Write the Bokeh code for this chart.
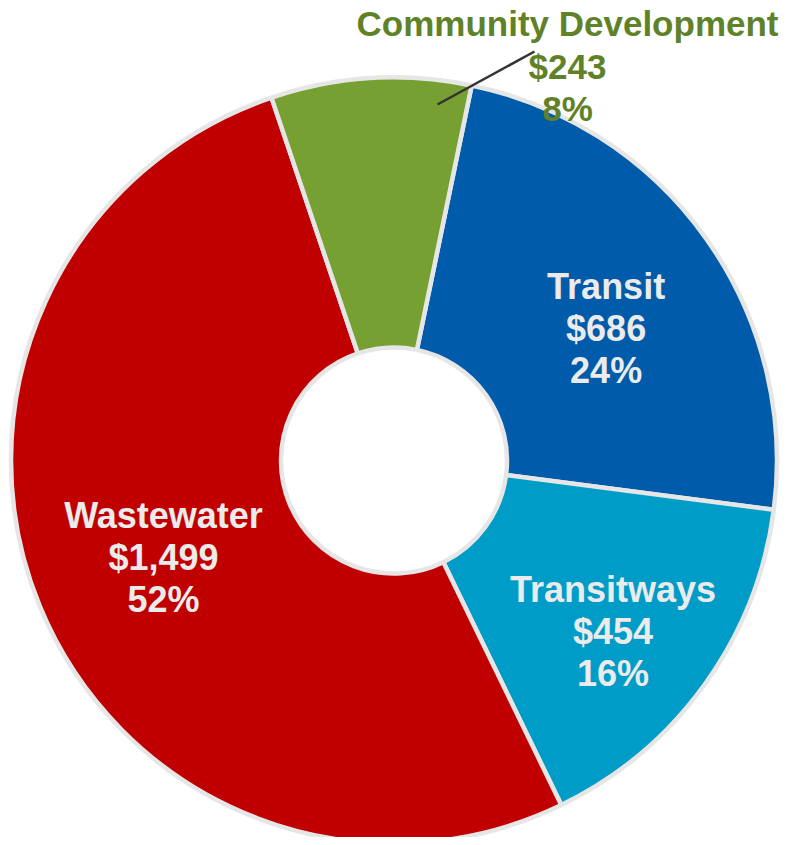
import math
from bokeh.plotting import figure
from bokeh.models import Range1d, ColumnDataSource
from bokeh.core.properties import value
from bokeh.embed import file_html
from bokeh.resources import INLINE

# ---- data ----
categories = ["Transit", "Transitways", "Wastewater", "Community Development"]
amounts = [686, 454, 1499, 243]
colors = ["#005BAA", "#009CC8", "#C00000", "#77A032"]

# ---- layout / style ----
W, H = 786, 837
PAGE_H = 845
cx, cy_screen = 393.5, 460
cy = PAGE_H - cy_screen
R_OUT, R_IN = 383, 113
START_DEG = 11.7  # clockwise from 12 o'clock
FONT = value("Liberation Sans")
FS = "36px"
FS_CD = "35px"
LINE = 42

total = sum(amounts)
starts, ends, mids = [], [], []
acc = START_DEG
for a in amounts:
    span = a / total * 360.0
    starts.append(acc)
    ends.append(acc + span)
    mids.append(acc + span / 2)
    acc += span

def to_bokeh(deg):
    return math.radians(90.0 - deg)

src = ColumnDataSource(dict(
    start=[to_bokeh(s) for s in starts],
    end=[to_bokeh(e) for e in ends],
    color=colors,
))

p = figure(width=W, height=H, output_backend="svg", toolbar_location=None,
           x_range=Range1d(0, W), y_range=Range1d(PAGE_H - H, PAGE_H),
           min_border=0, outline_line_color=None)
p.axis.visible = False
p.grid.visible = False
p.background_fill_color = "white"
p.border_fill_color = "white"

p.annular_wedge(x=cx, y=cy, inner_radius=R_IN, outer_radius=R_OUT,
                start_angle="start", end_angle="end", direction="clock",
                fill_color="color", line_color="#E6E6E6", line_width=4.5,
                source=src)

# label positions (radius / angle adjustments per slice, layout only)
label_r = [250, 278, 250]
label_da = [3.5, 2.3, -0.5]
for i in range(3):
    ang = math.radians(mids[i] + label_da[i])
    lx = cx + label_r[i] * math.sin(ang)
    ly = cy + label_r[i] * math.cos(ang)
    pct = round(amounts[i] / total * 100)
    lines = [categories[i], f"${amounts[i]:,}", f"{pct}%"]
    for k, t in enumerate(lines):
        p.text(x=[lx], y=[ly - (k - 1) * LINE], text=[t], text_font=FONT,
               text_font_size=FS, text_font_style="bold", text_color="#EBEBEB",
               text_align="center", text_baseline="middle")

# Community Development outside label with leader line
cd_x, cd_y = 567, PAGE_H - 66
pct = round(amounts[3] / total * 100)
cd_lines = [categories[3], f"${amounts[3]:,}", f"{pct}%"]
for k, t in enumerate(cd_lines):
    p.text(x=[cd_x], y=[cd_y - (k - 1) * LINE + (1 if k == 0 else 0)], text=[t],
           text_font=FONT, text_font_size=FS_CD, text_font_style="bold",
           text_color="#5F8228", text_align="center", text_baseline="middle")

p.line(x=[437, 534], y=[PAGE_H - 104, PAGE_H - 51], line_color="#333333", line_width=2.5)

open("out.html", "w").write(file_html(p, INLINE))
